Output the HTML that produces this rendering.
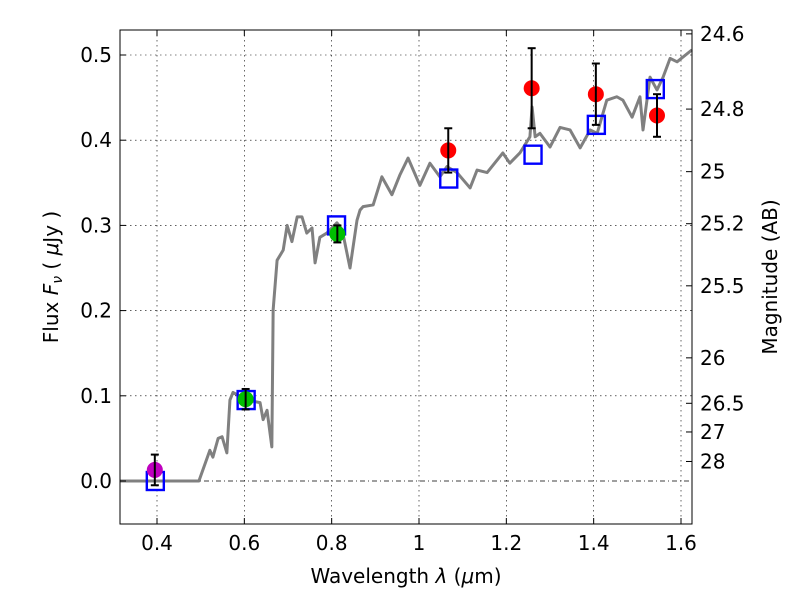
<!DOCTYPE html>
<html><head><meta charset="utf-8"><style>
body{margin:0;background:#fff}
svg text{font-family:"DejaVu Sans","Liberation Sans",sans-serif;fill:#000}
</style></head><body>
<svg id="c" width="800" height="600"></svg>
<script>
const specLam=[0.315,0.496,0.521,0.528,0.540,0.549,0.560,0.567,0.574,0.606,0.636,0.643,0.652,0.663,0.666,0.675,0.689,0.698,0.709,0.721,0.732,0.743,0.755,0.762,0.773,0.789,0.812,0.824,0.842,0.858,0.865,0.872,0.895,0.915,0.938,0.956,0.975,1.002,1.025,1.048,1.064,1.087,1.117,1.133,1.156,1.192,1.208,1.231,1.254,1.259,1.266,1.277,1.300,1.323,1.346,1.369,1.392,1.408,1.430,1.453,1.467,1.488,1.506,1.513,1.529,1.545,1.559,1.575,1.591,1.625];
const specFlux=[0,0,0.036,0.028,0.050,0.052,0.033,0.095,0.104,0.095,0.092,0.072,0.083,0.040,0.201,0.259,0.271,0.300,0.281,0.310,0.310,0.291,0.297,0.256,0.286,0.291,0.303,0.295,0.250,0.306,0.318,0.322,0.324,0.357,0.336,0.359,0.379,0.347,0.373,0.357,0.369,0.362,0.344,0.365,0.362,0.385,0.373,0.385,0.404,0.439,0.404,0.408,0.392,0.415,0.412,0.391,0.412,0.408,0.447,0.451,0.447,0.427,0.451,0.412,0.474,0.459,0.474,0.496,0.492,0.506];
const modelLam=[0.395,0.603,0.81,1.067,1.26,1.405,1.54];
const modelFlux=[0.0,0.095,0.300,0.355,0.383,0.418,0.460];
const obsLam=[0.395,0.603,0.813,1.067,1.258,1.405,1.545];
const obsFlux=[0.013,0.096,0.290,0.388,0.461,0.454,0.429];
const obsErr=[0.018,0.012,0.010,0.026,0.047,0.036,0.025];
const obsColor=['#bf00bf','#00bf00','#00bf00','#ff0000','#ff0000','#ff0000','#ff0000'];
const xTicks=[0.4,0.6,0.8,1.0,1.2,1.4,1.6];
const xTickLabels=['0.4','0.6','0.8','1','1.2','1.4','1.6'];
const yTicks=[0.0,0.1,0.2,0.3,0.4,0.5];
const magTicks=[24.6,24.8,25,25.2,25.5,26,26.5,27,28];

const L=120,R=692,T=30,B=524;
const X=v=>157+(v-0.4)*436.67;
const Y=v=>481-v*852;
const s=document.getElementById('c');
const NS='http://www.w3.org/2000/svg';
function mk(tag,at,par){const e=document.createElementNS(NS,tag);for(const k in at)e.setAttribute(k,at[k]);(par||s).appendChild(e);return e;}

xTicks.forEach(v=>{const g=mk('line',{x1:X(v),x2:X(v),y1:T,y2:B,stroke:'#000','stroke-width':0.6,'stroke-dasharray':'1.5,3.5'});

});
yTicks.forEach(v=>{if(v===0)return;const g=mk('line',{x1:L,x2:R,y1:Y(v),y2:Y(v),stroke:'#000','stroke-width':0.6,'stroke-dasharray':'1.5,3.5'});

});
const zl=mk('line',{x1:L,x2:R,y1:Y(0),y2:Y(0),stroke:'#000','stroke-width':0.7,'stroke-dasharray':'5,3,1,3'});



const sp=mk('polyline',{points:specLam.map((l,i)=>X(l)+','+Y(specFlux[i])).join(' '),fill:'none',stroke:'#808080','stroke-width':3,'stroke-linejoin':'round'});



modelLam.forEach((l,i)=>{const r=mk('rect',{x:X(l)-8,y:Y(modelFlux[i])-9,width:17,height:18,fill:'none',stroke:'#0000ff','stroke-width':2.4});

});

obsLam.forEach((l,i)=>{const g=mk('g',{});


mk('circle',{cx:X(l),cy:Y(obsFlux[i]),r:8,fill:obsColor[i]},g);
const x=X(l),y1=Y(obsFlux[i]+obsErr[i]),y2=Y(obsFlux[i]-obsErr[i]);
mk('line',{x1:x,x2:x,y1:y1,y2:y2,stroke:'#000','stroke-width':2},g);
mk('line',{x1:x-4,x2:x+4,y1:y1,y2:y1,stroke:'#000','stroke-width':2},g);
mk('line',{x1:x-4,x2:x+4,y1:y2,y2:y2,stroke:'#000','stroke-width':2},g);});

const fr=mk('rect',{x:L,y:T,width:R-L,height:B-T,fill:'none',stroke:'#000','stroke-width':1});



xTicks.forEach((v,i)=>{mk('line',{x1:X(v),x2:X(v),y1:B,y2:B-6,stroke:'#000'});mk('line',{x1:X(v),x2:X(v),y1:T,y2:T+6,stroke:'#000'});
const t=mk('text',{x:X(v),y:B+26,'text-anchor':'middle','font-size':20});t.textContent=xTickLabels[i];

});
yTicks.forEach(v=>{mk('line',{x1:L,x2:L+6,y1:Y(v),y2:Y(v),stroke:'#000'});
const t=mk('text',{x:L-8,y:Y(v)+7,'text-anchor':'end','font-size':20});t.textContent=v.toFixed(1);

});
magTicks.forEach(m=>{const y=Y(Math.pow(10,(23.9-m)/2.5));mk('line',{x1:R,x2:R-6,y1:y,y2:y,stroke:'#000'});
const t=mk('text',{x:R+8,y:y+7,'font-size':20});t.textContent=String(m);

});
</script>
<svg width="800" height="600" style="position:absolute;left:0;top:0">
<text x="406" y="583" text-anchor="middle" font-size="20">Wavelength  <tspan font-style="italic">λ</tspan> (<tspan font-style="italic">μ</tspan>m)</text>
<text transform="translate(58,277) rotate(-90)" text-anchor="middle" font-size="20">Flux  <tspan font-style="italic">F</tspan><tspan font-style="italic" font-size="14" dy="4">ν</tspan><tspan dy="-4">  ( </tspan><tspan font-style="italic">μ</tspan>Jy )</text>
<text transform="translate(777,277) rotate(-90)" text-anchor="middle" font-size="20">Magnitude (AB)</text>
</svg>
</body></html>
